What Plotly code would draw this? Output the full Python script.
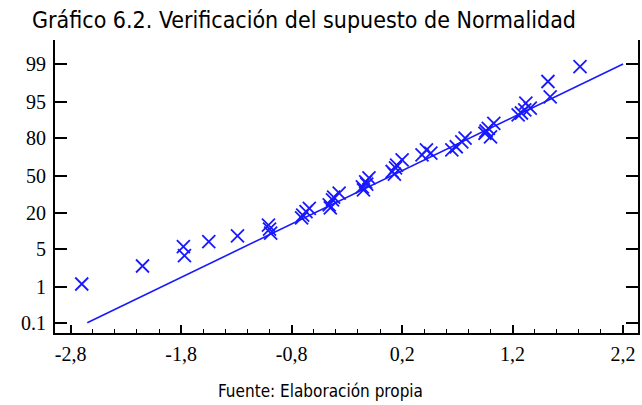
import plotly.graph_objects as go

# Residual values (x) and normal scores (y, in chart's probability-score units)
residuals = [-2.70, -2.15, -1.78, -1.77, -1.55, -1.29, -1.01, -1.00, -0.99,
             -0.71, -0.70, -0.67, -0.64, -0.46, -0.45, -0.43, -0.42, -0.37,
             -0.16, -0.15, -0.13, -0.12, -0.10, 0.11, 0.13, 0.14, 0.15, 0.20,
             0.38, 0.42, 0.46, 0.65, 0.69, 0.74, 0.77, 0.95, 0.96, 0.98, 1.00,
             1.03, 1.25, 1.28, 1.31, 1.32, 1.36, 1.52, 1.54, 1.81]
normal_scores = [-2.40, -2.00, -1.57, -1.77, -1.46, -1.33, -1.09, -1.18, -1.27,
                 -0.93, -0.87, -0.79, -0.72, -0.64, -0.71, -0.53, -0.47, -0.38,
                 -0.24, -0.31, -0.13, -0.18, -0.04, 0.10, 0.04, 0.18, 0.24, 0.36,
                 0.47, 0.58, 0.51, 0.58, 0.65, 0.76, 0.84, 0.95, 1.00, 1.06, 0.87,
                 1.17, 1.36, 1.40, 1.47, 1.62, 1.51, 2.10, 1.76, 2.43]

# Reference line endpoints
line_x = [-2.65, 2.2]
line_y = [-3.26, 2.49]

# Axis ticks
x_tick_vals = [-2.8, -1.8, -0.8, 0.2, 1.2, 2.2]
x_tick_text = ["-2,8", "-1,8", "-0,8", "0,2", "1,2", "2,2"]
pct_labels = ["0.1", "1", "5", "20", "50", "80", "95", "99"]
pct_scores = [-3.26, -2.47, -1.62, -0.82, 0.0, 0.84, 1.65, 2.49]

blue = "rgb(25,25,255)"

fig = go.Figure()
fig.add_trace(go.Scatter(x=line_x, y=line_y, mode="lines",
                         line=dict(color=blue, width=1.6), hoverinfo="skip"))
fig.add_trace(go.Scatter(x=residuals, y=normal_scores, mode="markers",
                         marker=dict(symbol="x-thin", size=13, color=blue,
                                     line=dict(color=blue, width=1.8))))

serif = "Liberation Serif, Times New Roman, serif"
narrow = "Liberation Sans Narrow, Arial Narrow, DejaVu Sans Condensed, sans-serif"

fig.update_layout(
    width=642, height=405,
    margin=dict(l=55, r=2, t=40, b=72),
    paper_bgcolor="white", plot_bgcolor="white",
    showlegend=False,
    title=dict(text="Gráfico 6.2. Verificación del supuesto de Normalidad",
               xref="container", yref="container", x=32/642, y=1-20/405,
               xanchor="left", yanchor="middle",
               font=dict(family=narrow, size=23, color="black")),
    annotations=[dict(text="Fuente: Elaboración propia", xref="paper", yref="paper",
                      x=(321-55)/585, y=(333-391)/293, xanchor="center", yanchor="middle",
                      showarrow=False, font=dict(family=narrow, size=17, color="black"))],
)
fig.update_xaxes(range=[-2.942, 2.335], tickmode="array", tickvals=x_tick_vals,
                 ticktext=x_tick_text, ticks="inside", ticklen=8, tickwidth=1.5,
                 tickcolor="black", showline=True, linecolor="black", linewidth=2,
                 mirror=False, showgrid=False, zeroline=False, ticklabelstandoff=2,
                 tickfont=dict(family=serif, size=20, color="black"),
                 minor=dict(tickmode="linear", tick0=-2.8, dtick=0.2, ticks="inside",
                            ticklen=4, tickwidth=1.2, tickcolor="black", showgrid=False))
fig.update_yaxes(range=[-3.489, 3.022], tickmode="array", tickvals=pct_scores,
                 ticktext=pct_labels, ticks="inside", ticklen=12, tickwidth=1.5,
                 tickcolor="black", showline=True, linecolor="black", linewidth=2,
                 mirror="ticks", showgrid=False, zeroline=False, ticklabelstandoff=3,
                 tickfont=dict(family=serif, size=20, color="black"))

fig.write_html("out.html")
